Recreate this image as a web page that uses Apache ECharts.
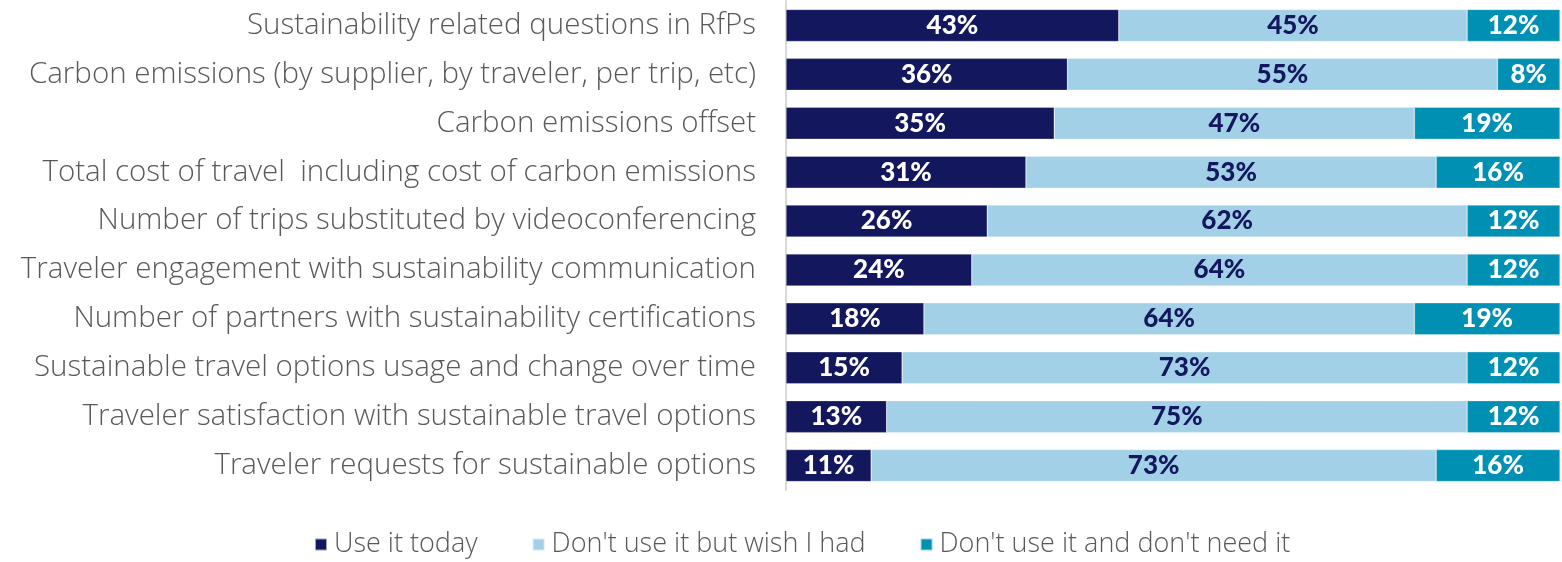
<!DOCTYPE html>
<html><head><meta charset="utf-8">
<script src="https://cdn.jsdelivr.net/npm/echarts@6/dist/echarts.min.js"></script>
<style>html,body{margin:0;padding:0;background:#fff}#c{width:1562px;height:562px}</style>
</head><body><div id="c"></div>
<script>
const categories = [
  "Sustainability related questions in RfPs",
  "Carbon emissions (by supplier, by traveler, per trip, etc)",
  "Carbon emissions offset",
  "Total cost of travel  including cost of carbon emissions",
  "Number of trips substituted by videoconferencing",
  "Traveler engagement with sustainability communication",
  "Number of partners with sustainability certifications",
  "Sustainable travel options usage and change over time",
  "Traveler satisfaction with sustainable travel options",
  "Traveler requests for sustainable options"
];
const useToday = [43, 36, 35, 31, 26, 24, 18, 15, 13, 11];
const wishHad  = [45, 55, 47, 53, 62, 64, 64, 73, 75, 73];
const noNeed   = [12, 8, 19, 16, 12, 12, 19, 12, 12, 16];
const seriesNames = ["Use it today", "Don't use it but wish I had", "Don't use it and don't need it"];
const colors = ["#12175e", "#a2d0e6", "#0090b4"];
const labelColors = ["#ffffff", "#12175e", "#ffffff"];

const raw = [useToday, wishHad, noNeed];
const totals = categories.map((_, i) => raw.reduce((s, a) => s + a[i], 0));

const chart = echarts.init(document.getElementById('c'), null, {renderer: 'canvas'});
chart.setOption({
  animation: false,
  grid: {left: 786, right: 2, top: 1, height: 489},
  legend: {
    bottom: -1, left: 309, itemWidth: 12, itemHeight: 12, itemGap: 54,
    icon: 'rect',
    textStyle: {fontFamily: 'Open Sans', fontWeight: 300, fontSize: 27, color: '#595959', padding: [0,0,0,2]},
    data: seriesNames
  },
  xAxis: {type: 'value', min: 0, max: 100, show: false},
  yAxis: {
    type: 'category', inverse: true, data: categories,
    axisLine: {show: true, lineStyle: {color: '#d9d9d9', width: 2}},
    axisTick: {show: false},
    axisLabel: {fontFamily: 'Open Sans', fontWeight: 300, fontSize: 29.5, color: '#595959', margin: 30}
  },
  series: raw.map((arr, k) => ({
    name: seriesNames[k], type: 'bar', stack: 'all', barWidth: 32,
    itemStyle: {color: colors[k], borderColor: 'rgba(255,255,255,0.6)', borderWidth: 0.5},
    label: {show: true, position: 'inside', fontFamily: 'Lato', fontWeight: 900, fontSize: 26,
      color: labelColors[k], formatter: p => arr[p.dataIndex] + '%'},
    data: arr.map((v, i) => v / totals[i] * 100)
  }))
});
</script></body></html>
